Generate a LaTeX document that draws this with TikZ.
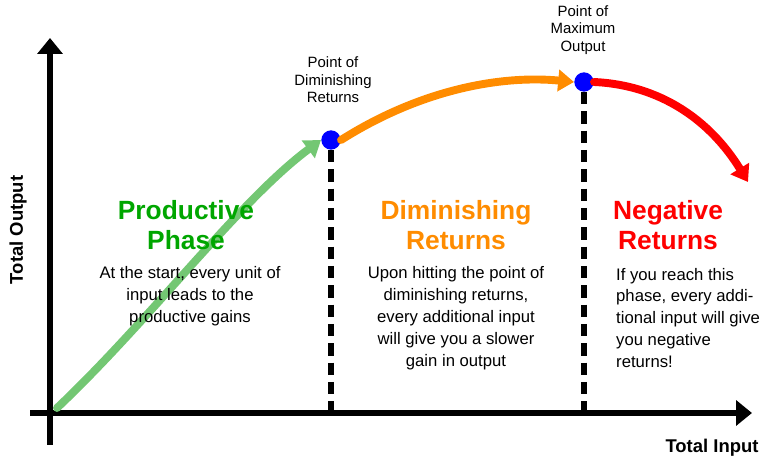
\documentclass[tikz,border=0pt]{standalone}
\usepackage{fontspec}
\setmainfont{Liberation Sans}
\usetikzlibrary{arrows.meta}

\begin{document}
\begin{tikzpicture}[x=0.02cm,y=-0.02cm,
    axis/.style={line width=3.5pt,-{Triangle[length=9pt,width=14pt]}},
    curve/.style={line width=4.5pt,line cap=round},
    dot/.style={circle,fill=blue,minimum size=11pt,inner sep=0pt},
    drop/.style={line width=3.5pt,dash pattern=on 7pt off 4pt},
    phase/.style={font=\bfseries\fontsize{15}{17}\selectfont,align=center},
    note/.style={font=\fontsize{9.5}{12.5}\selectfont,align=center},
    tag/.style={font=\fontsize{8.5}{10}\selectfont,align=center}]
  \useasboundingbox (0,0) rectangle (768,465);
  % axes
  \coordinate (o) at (50,413);
  \coordinate (ybot) at (50,445);
  \coordinate (ytop) at (50,38);
  \coordinate (xleft) at (30,413);
  \coordinate (xright) at (752,413);
  \draw[axis] (ybot) -- (ytop);
  \draw[axis] (xleft) -- (xright);
  \node[font=\bfseries\fontsize{10.5}{12}\selectfont,rotate=90] (ylab) at (18,230) {Total Output};
  \node[font=\bfseries\fontsize{10.5}{12}\selectfont] (xlab) at (712,448) {Total Input};
  % points
  \coordinate (start) at (57,408);
  \node[dot] (dim) at (331,140) {};
  \node[dot] (max) at (584,82) {};
  \coordinate (end) at (748,182);
  \coordinate (dimfoot) at (331,413);
  \coordinate (maxfoot) at (584,413);
  \draw[drop] (dim) -- (dimfoot);
  \draw[drop] (max) -- (maxfoot);
  % curves
  \draw[curve,draw=green!60!black!55,-{Triangle[length=9pt,width=12pt]}]
    (start) .. controls (150,320) and (240,200) .. (dim.west);
  \draw[curve,color=orange!90!yellow,-{Triangle[length=9pt,width=12pt]}]
    (dim.east) .. controls (420,90) and (500,75) .. (max.west);
  \draw[curve,color=red,-{Triangle[length=9pt,width=12pt]}]
    (max.east) .. controls (660,85) and (710,120) .. (end);
  % labels
  \node[tag] (dimtag) at (333,80) {Point of\\Diminishing\\Returns};
  \node[tag] (maxtag) at (583,30) {Point of\\Maximum\\Output};
  \node[phase,color=green!65!black] (prod) at (186,225) {Productive\\Phase};
  \node[phase,color=orange!90!yellow] (dimh) at (456,225) {Diminishing\\Returns};
  \node[phase,color=red] (neg) at (668,225) {Negative\\Returns};
  \node[note] (prodtxt) at (190,296) {At the start, every unit of\\input leads to the\\productive gains};
  \node[note] (dimtxt) at (456,318) {Upon hitting the point of\\diminishing returns,\\every additional input\\will give you a slower\\gain in output};
  \node[note,align=left,anchor=west] (negtxt) at (610,318) {If you reach this\\phase, every addi-\\tional input will give\\you negative\\returns!};
\end{tikzpicture}
\end{document}
